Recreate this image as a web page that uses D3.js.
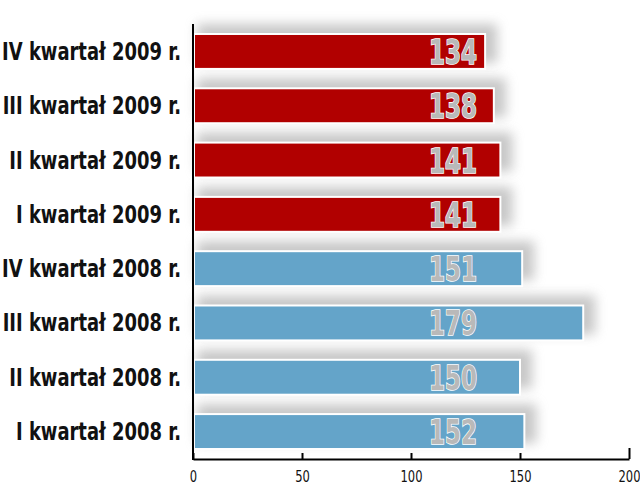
<!DOCTYPE html>
<html><head><meta charset="utf-8">
<script src="https://cdn.jsdelivr.net/npm/d3@7"></script>
<style>body{margin:0;background:#fff}svg{display:block}</style>
</head><body>
<svg id="c" width="640" height="503"></svg>
<script>
const categories = ["IV kwartał 2009 r.","III kwartał 2009 r.","II kwartał 2009 r.","I kwartał 2009 r.","IV kwartał 2008 r.","III kwartał 2008 r.","II kwartał 2008 r.","I kwartał 2008 r."];
const values = [134,138,141,141,151,179,150,152];
const years = ["2009","2009","2009","2009","2008","2008","2008","2008"];
const tickValues = [0,50,100,150,200];

const colorByYear = {"2009":"#b10000","2008":"#64a4c9"};
const FONT = "'DejaVu Sans Condensed','Liberation Sans Narrow',sans-serif";
const svg = d3.select("#c");
const x = d3.scaleLinear().domain([0,200]).range([193,629]);
const y = d3.scaleBand().domain(categories).range([24.3,458.7]).paddingInner(0.32).paddingOuter(0.16);

const defs = svg.append("defs");
const f = defs.append("filter").attr("id","sh").attr("x","-20%").attr("y","-80%").attr("width","150%").attr("height","260%");
f.append("feGaussianBlur").attr("stdDeviation",6);

const data = categories.map((c,i)=>({c, v:values[i], yr:years[i]}));

function squeeze(sel, ax, sx){
  sel.attr("transform", `translate(${ax},0) scale(${sx},1) translate(${-ax},0)`);
}

// shadows
svg.append("g").selectAll("rect").data(data).join("rect")
  .attr("x", x(0)+4).attr("y", d=>y(d.c)-9)
  .attr("width", d=>x(d.v)-x(0)+8).attr("height", y.bandwidth()+2)
  .attr("fill","#9a9a9a").attr("opacity",0.55).attr("filter","url(#sh)");

// bars
svg.append("g").selectAll("rect").data(data).join("rect")
  .attr("x", x(0)+1).attr("y", d=>y(d.c)+1)
  .attr("width", d=>x(d.v)-x(0)-1).attr("height", y.bandwidth()-2)
  .attr("fill", d=>colorByYear[d.yr]).attr("stroke","#fff").attr("stroke-width",2);

// value labels
const vl = svg.append("g").selectAll("text").data(data).join("text")
  .attr("x", 477).attr("y", d=>y(d.c)+y.bandwidth()/2+12.5)
  .attr("text-anchor","end")
  .attr("font-family",FONT)
  .attr("font-weight","bold").attr("font-size",34)
  .attr("fill","#b9b9b9").attr("stroke","#fff").attr("stroke-width",1.6)
  .attr("paint-order","stroke")
  .text(d=>d.v);
const vw = vl.node().getComputedTextLength();
vl.each(function(){ squeeze(d3.select(this), 477, 48/vw); });

// category labels
const cl = svg.append("g").selectAll("text").data(data).join("text")
  .attr("x", 181).attr("y", d=>y(d.c)+y.bandwidth()/2+8.5)
  .attr("text-anchor","end")
  .attr("font-family",FONT)
  .attr("font-weight","bold").attr("font-size",24)
  .attr("fill","#111")
  .text(d=>d.c);
const cw = cl.node().getComputedTextLength();
cl.each(function(){ squeeze(d3.select(this), 181, 179/cw); });

// vertical axis line
svg.append("line").attr("x1",x(0)).attr("x2",x(0)).attr("y1",24).attr("y2",460)
  .attr("stroke","#000").attr("stroke-width",2);

// bottom axis
const ax = svg.append("g").attr("transform","translate(0,459)")
  .call(d3.axisBottom(x).tickValues(tickValues).tickSize(0).tickPadding(0).tickFormat(d3.format("d")));
ax.select(".domain").attr("stroke","#000").attr("stroke-width",2);
ax.selectAll(".tick line").remove();
ax.selectAll(".tick").append("line").attr("y1",0).attr("y2",d=>d===200?-11:-6).attr("stroke","#000").attr("stroke-width",2);
const tl = ax.selectAll(".tick text").attr("y",23).attr("dy",null)
  .attr("font-family",FONT)
  .attr("font-size",16).attr("fill","#111");
const tw = ax.selectAll(".tick text").filter(d=>d===200).node().getComputedTextLength();
tl.attr("transform",`scale(${22/tw},1)`);
</script>
</body></html>
